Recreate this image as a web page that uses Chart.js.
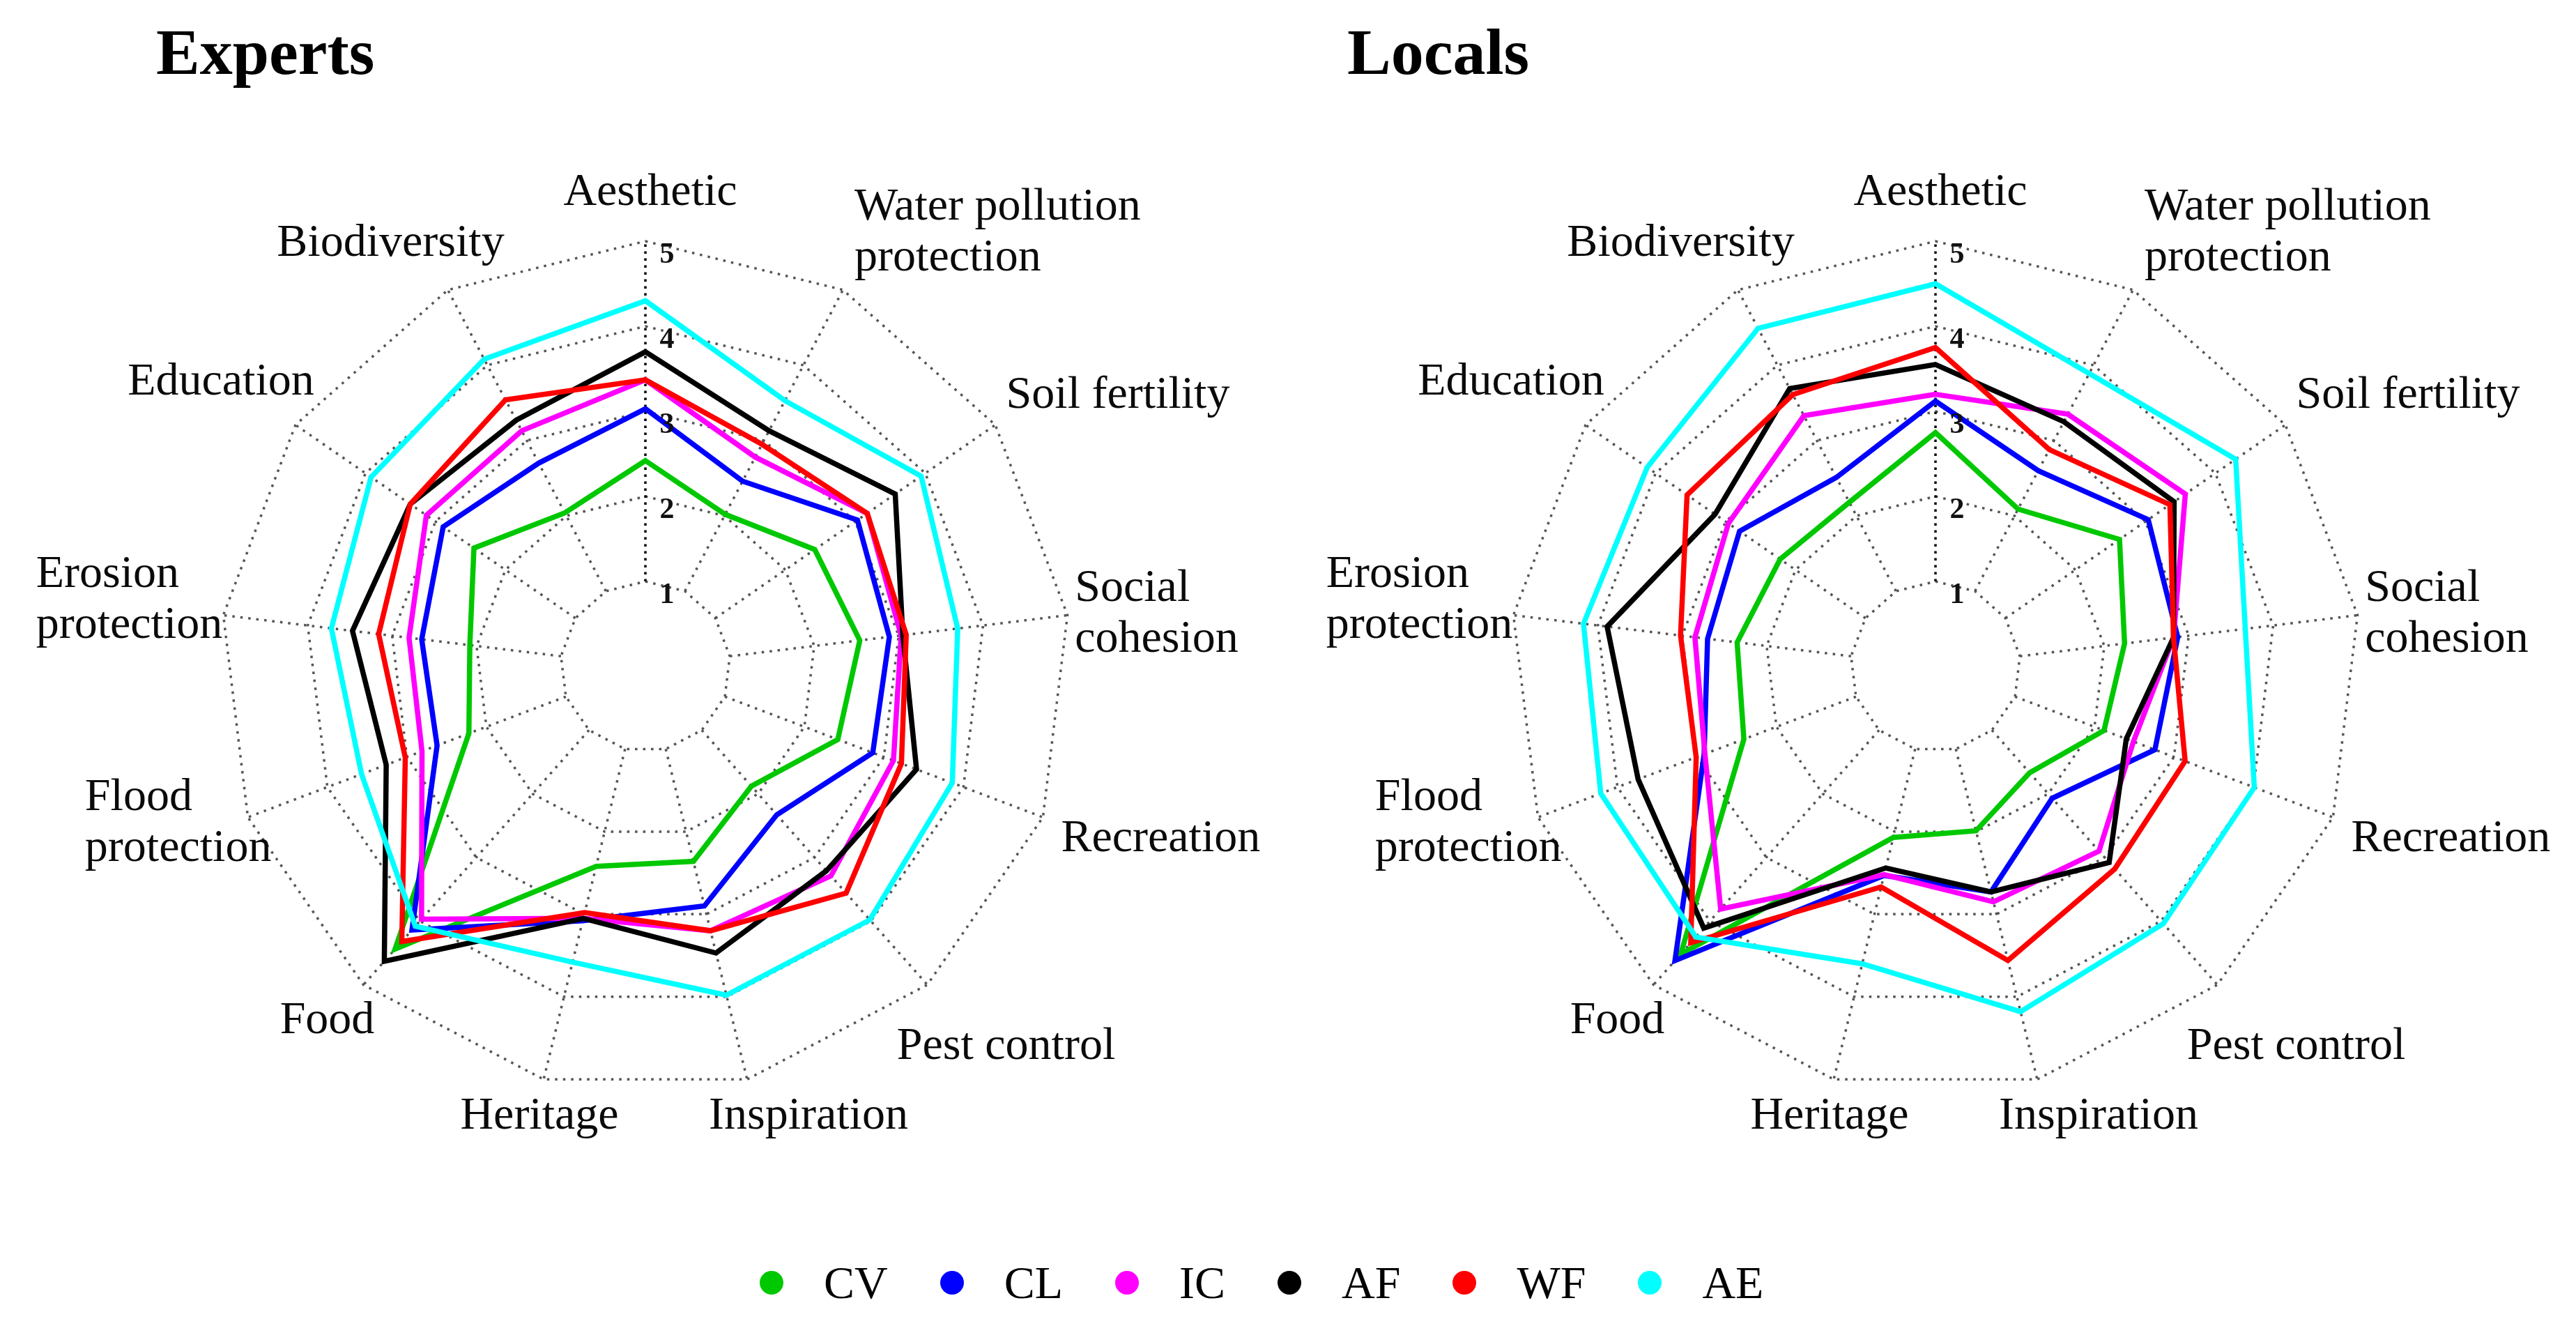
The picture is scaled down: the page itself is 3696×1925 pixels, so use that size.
<!DOCTYPE html>
<html>
<head>
<meta charset="utf-8">
<script src="https://cdn.jsdelivr.net/npm/chart.js@4.4.1/dist/chart.umd.min.js"></script>
<style>
  html, body { margin: 0; padding: 0; background: #fff; }
  body { width: 3696px; height: 1925px; position: relative; overflow: hidden; font-family: "Liberation Serif", serif; }
  canvas { position: absolute; top: 0; }
  #experts { left: 0; }
  #locals { left: 1848px; }
  #legend { position: absolute; left: 1090px; top: 1800px; height: 80px; display: flex; align-items: center; font-size: 66px; color: #000; }
  #legend .dot { width: 34px; height: 34px; border-radius: 50%; margin-right: 58px; }
  #legend .txt { margin-right: 75px; }
</style>
</head>
<body>
<canvas id="experts" width="1848" height="1925"></canvas>
<canvas id="locals" width="1848" height="1925"></canvas>
<div id="legend"></div>
<script>
// axes, clockwise from the top
const categories = [
  'Aesthetic', ['Water pollution', 'protection'], 'Soil fertility', ['Social', 'cohesion'],
  'Recreation', 'Pest control', 'Inspiration', 'Heritage', 'Food',
  ['Flood', 'protection'], ['Erosion', 'protection'], 'Education', 'Biodiversity'
];
const seriesNames = ['CV', 'CL', 'IC', 'AF', 'WF', 'AE'];
const seriesColors = ['#00C800', '#0000FF', '#FF00FF', '#000000', '#FF0000', '#00FFFF'];
const tickValues = [1, 2, 3, 4, 5];

// Experts scores
const expertsCV = [2.42, 2.02, 2.42, 2.54, 2.42, 1.88, 2.36, 2.42, 4.44, 2.22, 2.08, 2.45, 2.04];
const expertsCL = [3.03, 2.46, 3.03, 2.89, 2.86, 2.33, 2.90, 3.08, 4.14, 2.62, 2.65, 2.89, 2.70];
const expertsIC = [3.37, 2.78, 3.17, 3.03, 3.12, 3.29, 3.20, 3.05, 3.97, 2.81, 2.80, 3.13, 3.13];
const expertsAF = [3.70, 3.13, 3.57, 3.05, 3.41, 3.21, 3.47, 3.05, 4.63, 3.26, 3.47, 3.36, 3.27];
const expertsWF = [3.37, 2.95, 3.17, 3.09, 3.22, 3.56, 3.20, 2.98, 4.32, 3.02, 3.16, 3.36, 3.54];
const expertsAE = [4.30, 3.53, 3.94, 3.70, 3.86, 3.98, 3.98, 3.58, 4.08, 3.57, 3.72, 3.92, 4.08];

// Locals scores
const localsCV = [2.75, 2.09, 2.63, 2.24, 2.12, 1.67, 1.99, 2.07, 4.52, 2.41, 2.35, 2.22, 2.18];
const localsCL = [3.12, 2.60, 3.04, 2.87, 2.76, 2.07, 2.73, 2.53, 4.62, 2.91, 2.70, 2.80, 2.51];
const localsIC = [3.20, 3.35, 3.57, 2.82, 2.49, 2.90, 2.85, 2.52, 3.81, 2.90, 2.85, 2.96, 3.33];
const localsAF = [3.55, 3.25, 3.41, 2.82, 2.40, 3.08, 2.73, 2.44, 4.11, 3.74, 3.89, 3.15, 3.69];
const localsWF = [3.75, 2.88, 3.35, 2.82, 3.14, 3.18, 3.56, 2.67, 4.34, 3.01, 3.02, 3.55, 3.61];
const localsAE = [4.50, 3.89, 4.29, 3.67, 4.01, 4.04, 4.18, 3.60, 4.25, 4.21, 4.17, 4.12, 4.49];

// where each axis label sits, relative to the outer ring corner (px)
const labelShift = [
  [7, -69], [222, -82], [176, -42], [128, -1], [169, 31], [113, 89], [88, 53],
  [-6, 53], [-52, 52], [-100, 9], [-135, -21], [-107, -61], [-82, -66]
];

const radarDecor = {
  id: 'radarDecor',
  beforeDatasetsDraw(chart) {
    const s = chart.scales.r;
    const ctx = chart.ctx;
    ctx.save();
    ctx.lineWidth = 3.5;
    for (let i = 0; i < chart.data.labels.length; i++) {
      const a = s.getPointPositionForValue(i, tickValues[0]);
      const b = s.getPointPositionForValue(i, tickValues[tickValues.length - 1]);
      ctx.strokeStyle = i === 0 ? '#000' : '#555';
      ctx.setLineDash(i === 0 ? [3.5, 6.5] : [3.5, 8]);
      ctx.beginPath();
      ctx.moveTo(a.x, a.y);
      ctx.lineTo(b.x, b.y);
      ctx.stroke();
    }
    ctx.restore();
  },
  afterDatasetsDraw(chart, args, opts) {
    const s = chart.scales.r;
    const ctx = chart.ctx;
    ctx.save();
    // tick numbers beside the Aesthetic axis
    ctx.font = 'bold 42px "Liberation Serif"';
    ctx.fillStyle = '#111';
    ctx.textAlign = 'center';
    ctx.textBaseline = 'middle';
    tickValues.forEach(v => {
      const p = s.getPointPositionForValue(0, v);
      ctx.fillText(String(v), p.x + 31, p.y + 20);
    });
    // axis labels
    ctx.font = '66px "Liberation Serif"';
    ctx.fillStyle = '#0a0a0a';
    ctx.textAlign = 'left';
    chart.data.labels.forEach((lab, i) => {
      const lines = [].concat(lab);
      const v = s.getPointPositionForValue(i, tickValues[tickValues.length - 1]);
      const cx = v.x + labelShift[i][0];
      const cy = v.y + labelShift[i][1];
      const w = Math.max(...lines.map(l => ctx.measureText(l).width));
      const lh = 73;
      const top = cy - (lines.length - 1) * lh / 2;
      lines.forEach((l, k) => ctx.fillText(l, cx - w / 2, top + k * lh));
    });
    // panel title
    ctx.font = 'bold 94px "Liberation Serif"';
    ctx.textBaseline = 'alphabetic';
    ctx.fillStyle = '#000';
    ctx.fillText(opts.title, opts.titleX, 106);
    ctx.restore();
  }
};

function makeRadar(id, title, titleX, padLeft, padRight, values) {
  const ctx = document.getElementById(id).getContext('2d');
  return new Chart(ctx, {
    type: 'radar',
    data: {
      labels: categories,
      datasets: seriesNames.map((name, k) => ({
        label: name,
        data: values[k],
        borderColor: seriesColors[k],
        backgroundColor: seriesColors[k],
        borderWidth: 7.5,
        borderJoinStyle: 'miter',
        fill: false,
        pointRadius: 0,
        pointHoverRadius: 0,
        tension: 0,
        order: seriesNames.length - k
      }))
    },
    options: {
      responsive: false,
      devicePixelRatio: 1,
      animation: false,
      layout: { padding: { left: padLeft, right: padRight, top: 346, bottom: 359 } },
      scales: {
        r: {
          min: 0,
          max: 5,
          ticks: { display: false, stepSize: 1 },
          pointLabels: { display: false },
          angleLines: { display: false },
          grid: { color: '#555', lineWidth: 3.5 },
          border: { dash: [3.5, 8] }
        }
      },
      plugins: {
        legend: { display: false },
        tooltip: { enabled: false },
        radarDecor: { title: title, titleX: titleX }
      }
    },
    plugins: [radarDecor]
  });
}

makeRadar('experts', 'Experts', 224, 316, 312,
  [expertsCV, expertsCL, expertsIC, expertsAF, expertsWF, expertsAE]);
makeRadar('locals', 'Locals', 85, 319, 309,
  [localsCV, localsCL, localsIC, localsAF, localsWF, localsAE]);

// shared legend under both panels
const legend = document.getElementById('legend');
seriesNames.forEach((name, k) => {
  const dot = document.createElement('span');
  dot.className = 'dot';
  dot.style.background = seriesColors[k];
  const txt = document.createElement('span');
  txt.className = 'txt';
  txt.textContent = name;
  legend.appendChild(dot);
  legend.appendChild(txt);
});
</script>
</body>
</html>
